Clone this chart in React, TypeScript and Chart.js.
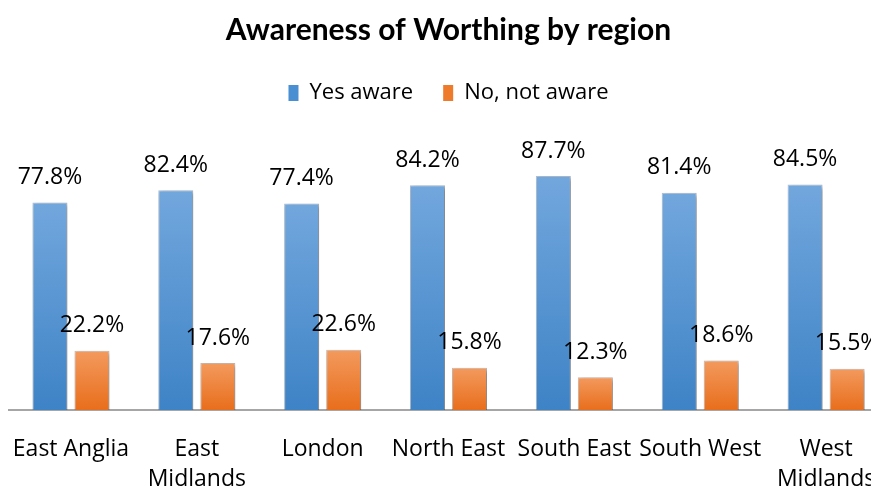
import React, { useEffect, useRef } from "react";
import { Chart, registerables } from "chart.js";

Chart.register(...registerables);

const categories: (string | string[])[] = [
  "East Anglia",
  ["East", "Midlands"],
  "London",
  "North East",
  "South East",
  "South West",
  ["West", "Midlands"],
];
const yesAware = [77.8, 82.4, 77.4, 84.2, 87.7, 81.4, 84.5];
const notAware = [22.2, 17.6, 22.6, 15.8, 12.3, 18.6, 15.5];
const seriesNames = ["Yes aware", "No, not aware"];

const FONT = "'Open Sans', sans-serif";
const TITLE_FONT = "Lato, 'Open Sans', sans-serif";

function barGradient(top: string, bottom: string) {
  return (ctx: any) => {
    const chart = ctx.chart;
    const y = chart.scales && chart.scales.y;
    if (!chart.chartArea || !y || ctx.raw === undefined) return bottom;
    const yTop = y.getPixelForValue(ctx.raw);
    const yBot = y.getPixelForValue(0);
    if (!isFinite(yTop) || !isFinite(yBot) || yTop === yBot) return bottom;
    const g = chart.ctx.createLinearGradient(0, yTop, 0, yBot);
    g.addColorStop(0, top);
    g.addColorStop(1, bottom);
    return g;
  };
}

const shadowPlugin = {
  id: "barShadow",
  beforeDatasetsDraw(chart: any) {
    const c = chart.ctx;
    c.save();
    c.shadowColor = "rgba(0,0,0,0.35)";
    c.shadowBlur = 4;
    c.shadowOffsetX = 2;
    c.shadowOffsetY = 2;
  },
  afterDatasetsDraw(chart: any) {
    chart.ctx.restore();
  },
};

const labelPlugin = {
  id: "valueLabels",
  afterDatasetsDraw(chart: any) {
    const c = chart.ctx;
    c.save();
    c.font = `23px ${FONT}`;
    c.fillStyle = "#000";
    c.textAlign = "center";
    c.textBaseline = "middle";
    chart.data.datasets.forEach((ds: any, di: number) => {
      const meta = chart.getDatasetMeta(di);
      meta.data.forEach((el: any, i: number) => {
        c.fillText(ds.data[i].toFixed(1) + "%", el.x, el.y - 25);
      });
    });
    c.restore();
  },
};

export default function App() {
  const ref = useRef<HTMLCanvasElement>(null);
  useEffect(() => {
    if (!ref.current) return;
    const chart = new Chart(ref.current, {
      type: "bar",
      data: {
        labels: categories,
        datasets: [
          {
            label: seriesNames[0],
            data: yesAware,
            backgroundColor: barGradient("#72a7dd", "#3e83c6"),
            borderColor: "rgba(80,110,150,0.45)",
            borderWidth: 1,
            barPercentage: 0.833,
            categoryPercentage: 0.668,
          },
          {
            label: seriesNames[1],
            data: notAware,
            backgroundColor: barGradient("#f39a5e", "#e86e1c"),
            borderColor: "rgba(150,100,70,0.45)",
            borderWidth: 1,
            barPercentage: 0.833,
            categoryPercentage: 0.668,
          },
        ],
      },
      options: {
        responsive: false,
        animation: false,
        layout: { padding: { left: 0, right: 0, top: 0, bottom: 0 } },
        plugins: {
          title: {
            display: true,
            text: "Awareness of Worthing by region",
            color: "#000",
            font: { family: TITLE_FONT, size: 30, weight: "bold" },
            padding: { top: 4, bottom: 4 },
          },
          subtitle: {
            display: true,
            text: "",
            font: { size: 1 },
            padding: { top: 0, bottom: 28 },
          },
          legend: {
            display: true,
            weight: 1800,
            labels: {
              color: "#000",
              font: { family: FONT, size: 22 },
              boxWidth: 10,
              boxHeight: 16,
              padding: 30,
              generateLabels: (chart: any) =>
                chart.data.datasets.map((ds: any, i: number) => ({
                  text: ds.label,
                  fillStyle: i === 0 ? "#4a8fd2" : "#ee7a2c",
                  strokeStyle: "transparent",
                  lineWidth: 0,
                  datasetIndex: i,
                  hidden: false,
                })),
            },
          },
          tooltip: { enabled: false },
        },
        scales: {
          x: {
            grid: { display: false },
            border: { display: true, color: "#a6a6a6", width: 2 },
            ticks: {
              color: "#000",
              font: { family: FONT, size: 23, lineHeight: 1.3 },
              maxRotation: 0,
              autoSkip: false,
              padding: 17,
            },
            afterFit: (s: any) => {
              s.height = 81;
              s.paddingLeft = 0;
              s.paddingRight = 0;
            },
          },
          y: {
            display: false,
            min: 0,
            max: 100,
          },
        },
      },
      plugins: [shadowPlugin, labelPlugin],
    });
    return () => chart.destroy();
  }, []);
  return (
    <div style={{ width: 871, height: 483, overflow: "hidden", position: "relative" }}>
      <canvas ref={ref} width={881} height={483} style={{ display: "block" }} />
    </div>
  );
}
